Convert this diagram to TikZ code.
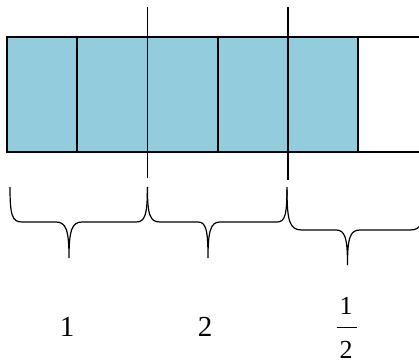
\documentclass[tikz,border=0pt]{standalone}
\usepackage{fontspec}
\setmainfont{Liberation Serif}
\definecolor{cellblue}{RGB}{147,205,221}
\tikzset{
  cell/.style={draw=black, line width=1.8pt, fill=cellblue, minimum width=70.2pt, minimum height=115pt, inner sep=0pt, outer sep=0pt, anchor=north west},
  divider/.style={draw=black, line width=1.2pt},
  brace/.style={draw=black, line width=1.2pt},
  lbl/.style={font=\fontsize{29}{30}\selectfont, inner sep=0pt},
  flbl/.style={font=\fontsize{26}{27}\selectfont, inner sep=0pt}
}
\begin{document}
\begin{tikzpicture}[x=1pt,y=-1pt]
\useasboundingbox (0,0) rectangle (419,363);
% cells
\node[cell] (c1) at (7,37) {};
\node[cell] (c2) at (77.2,37) {};
\node[cell] (c3) at (147.4,37) {};
\node[cell] (c4) at (217.6,37) {};
\node[cell] (c5) at (287.8,37) {};
\coordinate (rt) at (421,37);
\coordinate (rb) at (421,152);
\draw[line width=1.8pt] (c5.north east) -- (rt);
\draw[line width=1.8pt] (c5.south east) -- (rb);
% dividers
\coordinate (d1t) at (147.4,7);
\coordinate (d1b) at (147.4,178);
\coordinate (d2t) at (288,7);
\coordinate (d2b) at (288,180);
\draw[divider] (d1t) -- (d1b);
\draw[divider] (d2t) -- (d2b);
% braces
\draw[brace] (10,187) .. controls (10,215) and (12,222) .. (22,222) -- (56,222)
  .. controls (66,222) and (69,230) .. (69,258)
  .. controls (69,230) and (72,222) .. (82,222) -- (136,222)
  .. controls (145,222) and (147.4,215) .. (147.4,187);
\draw[brace] (147.4,187) .. controls (147.4,215) and (150,222) .. (160,222) -- (198,222)
  .. controls (206,222) and (208,230) .. (208,258)
  .. controls (208,230) and (211,222) .. (220,222) -- (277,222)
  .. controls (285,222) and (287,215) .. (287,187);
\draw[brace] (287,190) .. controls (287,222) and (290,230) .. (302,230) -- (336,230)
  .. controls (345,230) and (347.5,238) .. (347.5,265)
  .. controls (347.5,238) and (350,230) .. (360,230) -- (410,230)
  .. controls (416,230) and (419,228) .. (421,224);
% labels
\node[lbl] (l1) at (67,327) {1};
\node[lbl] (l2) at (205,327) {2};
\node[flbl] (fn) at (346,306) {1};
\node[flbl] (fd) at (346,350) {2};
\coordinate (fbl) at (337,327.5);
\coordinate (fbr) at (357,327.5);
\draw[line width=1pt] (fbl) -- (fbr);
\end{tikzpicture}
\end{document}
